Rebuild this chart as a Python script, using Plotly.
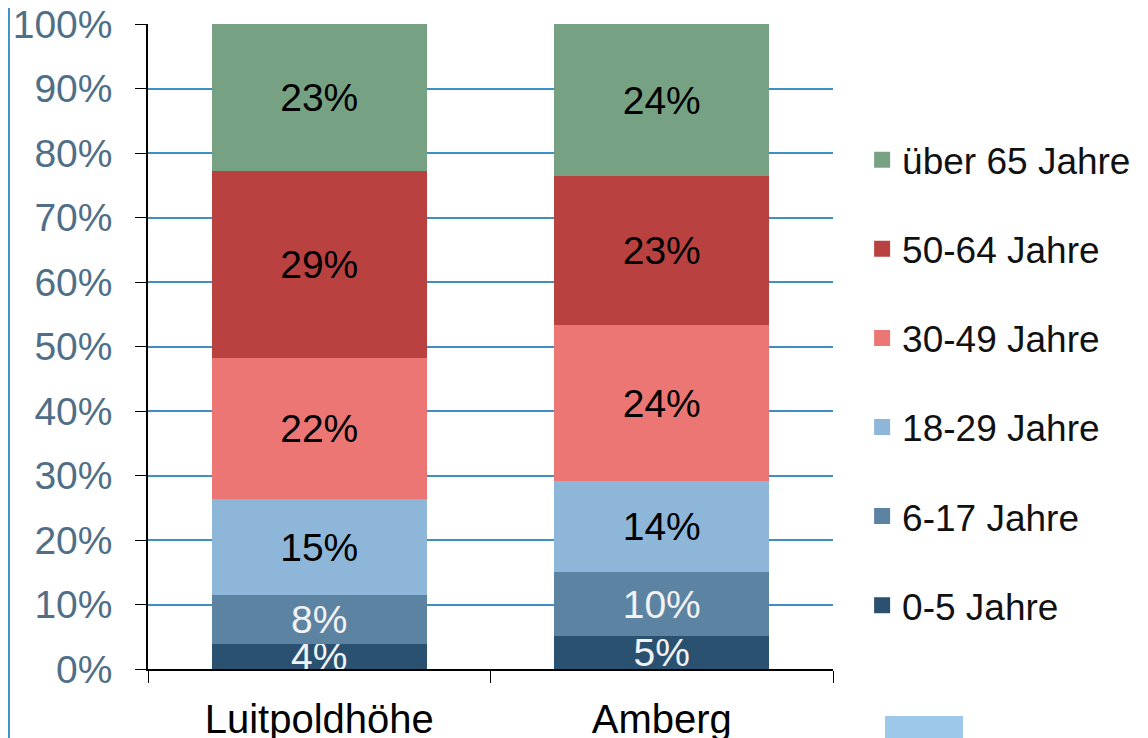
import plotly.graph_objects as go

categories = ["Luitpoldhöhe", "Amberg"]
groups = ["0-5 Jahre", "6-17 Jahre", "18-29 Jahre", "30-49 Jahre", "50-64 Jahre", "über 65 Jahre"]
share_0_5 = [0.039, 0.051]
share_6_17 = [0.076, 0.099]
share_18_29 = [0.148, 0.141]
share_30_49 = [0.219, 0.242]
share_50_64 = [0.290, 0.231]
share_65 = [0.228, 0.236]
series = [share_0_5, share_6_17, share_18_29, share_30_49, share_50_64, share_65]
colors = ["#2b5171", "#5d83a2", "#8db6d8", "#ec7673", "#b94240", "#76a283"]
label_colors = ["#f2f2f2", "#f2f2f2", "#000000", "#000000", "#000000", "#000000"]

FONT = "Liberation Sans, Arial, sans-serif"

fig = go.Figure()
n = len(groups)
for i, (name, vals, col, lc) in enumerate(zip(groups, series, colors, label_colors)):
    fig.add_trace(go.Bar(
        x=categories, y=vals, name=name, marker=dict(color=col, line=dict(width=0)),
        texttemplate="%{y:.0%}", textposition="inside", insidetextanchor="middle",
        textangle=0, textfont=dict(family=FONT, size=39, color=lc),
        legendgroup=name, showlegend=False, hoverinfo="skip",
    ))
    # legend entry with a larger square swatch
    fig.add_trace(go.Scatter(
        x=[None], y=[None], mode="markers", name=name,
        marker=dict(symbol="square", size=18, color=col),
        legendgroup=name, legendrank=(n - i) * 10, showlegend=True, hoverinfo="skip",
    ))

fig.update_layout(
    barmode="stack", bargap=0.373,
    width=1140, height=730,
    margin=dict(l=140, r=315, t=16, b=69, autoexpand=False),
    paper_bgcolor="white", plot_bgcolor="white",
    uniformtext=dict(minsize=39, mode="show"),
    font=dict(family=FONT),
    showlegend=True,
    legend=dict(
        traceorder="grouped", tracegroupgap=38,
        x=1.0425, xanchor="left", y=0.837, yanchor="top",
        font=dict(family=FONT, size=37, color="#111111"),
        bgcolor="rgba(0,0,0,0)", itemwidth=30,
    ),
    xaxis=dict(
        showline=True, linecolor="#000000", linewidth=1.5,
        ticks="outside", tickson="boundaries", ticklen=12, tickcolor="#000000",
        tickfont=dict(family=FONT, size=40, color="#000000"),
        ticklabelstandoff=14, ticklabeloverflow="allow",
        showgrid=False, fixedrange=True, automargin=False,
    ),
    yaxis=dict(
        range=[0, 1], dtick=0.1, tickformat=".0%",
        showline=True, linecolor="#000000", linewidth=1.5,
        ticks="outside", ticklen=11, tickcolor="#000000",
        tickfont=dict(family=FONT, size=39, color="#4f6f88"),
        ticklabelstandoff=15, ticklabeloverflow="allow", automargin=False,
        showgrid=True, gridcolor="#3d8fc4", gridwidth=1.5,
        zeroline=False, fixedrange=True,
    ),
    shapes=[
        dict(type="line", xref="paper", yref="paper", x0=-0.2030, x1=-0.2030, y0=-0.12, y1=1.05,
             line=dict(color="#3d8fc4", width=2)),
        dict(type="rect", xref="paper", yref="paper", x0=1.0759, x1=1.1898, y0=-0.12, y1=-0.0729,
             fillcolor="#9dc8ea", line=dict(width=0)),
    ],
)

fig.write_html("out.html")
